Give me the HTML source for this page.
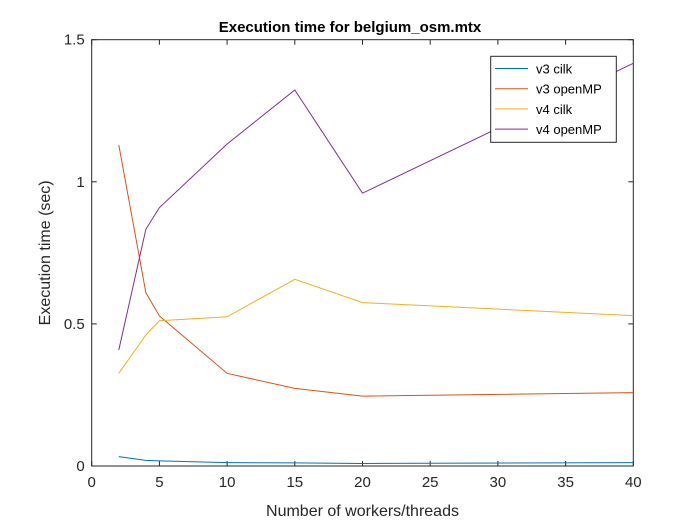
<!DOCTYPE html>
<html><head><meta charset="utf-8"><style>
body{margin:0;background:#fff;}
svg text{font-family:"Liberation Sans",Arial,sans-serif;}
</style></head><body>
<svg id="chart" width="700" height="525" xmlns="http://www.w3.org/2000/svg">
<rect width="700" height="525" fill="#fff"/>
<g id="plot"></g>
</svg>
<script>
const xValues=[2,4,5,10,15,20,40];
const v3cilk=[0.033,0.020,0.018,0.012,0.011,0.009,0.012];
const v3omp=[1.13,0.61,0.528,0.326,0.273,0.246,0.258];
const v4cilk=[0.326,0.461,0.511,0.525,0.657,0.575,0.529];
const v4omp=[0.408,0.833,0.909,1.133,1.323,0.96,1.417];
const seriesNames=["v3 cilk","v3 openMP","v4 cilk","v4 openMP"];
const xTicks=[0,5,10,15,20,25,30,35,40];
const yTicks=[0,0.5,1,1.5];
const yTickLabels=["0","0.5","1","1.5"];
const colors=["#0072BD","#D95319","#EDB120","#7E2F8E"];
const L=91.7,R=633.3,T=39.7,B=466;
const sx=v=>L+(v-0)/40*(R-L);
const sy=v=>B-(v/1.5)*(B-T);
const NS="http://www.w3.org/2000/svg";
const g=document.getElementById('plot');
function mk(tag,attrs,parent){const e=document.createElementNS(NS,tag);for(const k in attrs)e.setAttribute(k,attrs[k]);(parent||g).appendChild(e);return e;}
let t=mk('text',{x:350,y:32,'text-anchor':'middle','font-size':15,'font-weight':'bold',fill:'#000'});
t.textContent='Execution time for belgium_osm.mtx';


xTicks.forEach(v=>{
  const x=sx(v);
  mk('line',{x1:x,x2:x,y1:B,y2:B-5,stroke:'#262626'});
  mk('line',{x1:x,x2:x,y1:T,y2:T+5,stroke:'#262626'});
  const tx=mk('text',{x:x,y:B+21,'text-anchor':'middle','font-size':15,fill:'#262626'});
  tx.textContent=String(v);
  
  
});
yTicks.forEach((v,i)=>{
  const y=sy(v);
  mk('line',{x1:L,x2:L+5,y1:y,y2:y,stroke:'#262626'});
  mk('line',{x1:R,x2:R-5,y1:y,y2:y,stroke:'#262626'});
  const tx=mk('text',{x:L-7,y:y+5,'text-anchor':'end','font-size':15,fill:'#262626'});
  tx.textContent=yTickLabels[i];
  
  
});
const ax=mk('rect',{x:L,y:T,width:R-L,height:B-T,fill:'none',stroke:'#262626'});


let xl=mk('text',{x:(L+R)/2,y:516,'text-anchor':'middle','font-size':16,fill:'#262626'});
xl.textContent='Number of workers/threads';


let yl=mk('text',{x:0,y:0,'text-anchor':'middle','font-size':16,fill:'#262626',transform:`translate(50,${(T+B)/2}) rotate(-90)`});
yl.textContent='Execution time (sec)';


[v3cilk,v3omp,v4cilk,v4omp].forEach((s,i)=>{
  const p=mk('polyline',{points:s.map((v,j)=>sx(xValues[j])+','+sy(v)).join(' '),fill:'none',stroke:colors[i],'stroke-width':1});
  
  
});
const lg=mk('g',{});


mk('rect',{x:490.7,y:56.3,width:125.6,height:86,fill:'#fff',stroke:'#262626'},lg);
seriesNames.forEach((n,i)=>{
  const y=68.5+i*20.2;
  mk('line',{x1:495,x2:528,y1:y,y2:y,stroke:colors[i]},lg);
  const tx=mk('text',{x:536,y:y+5,'font-size':13,fill:'#000'},lg);
  tx.textContent=n;
  
  
});
</script>
</body></html>
